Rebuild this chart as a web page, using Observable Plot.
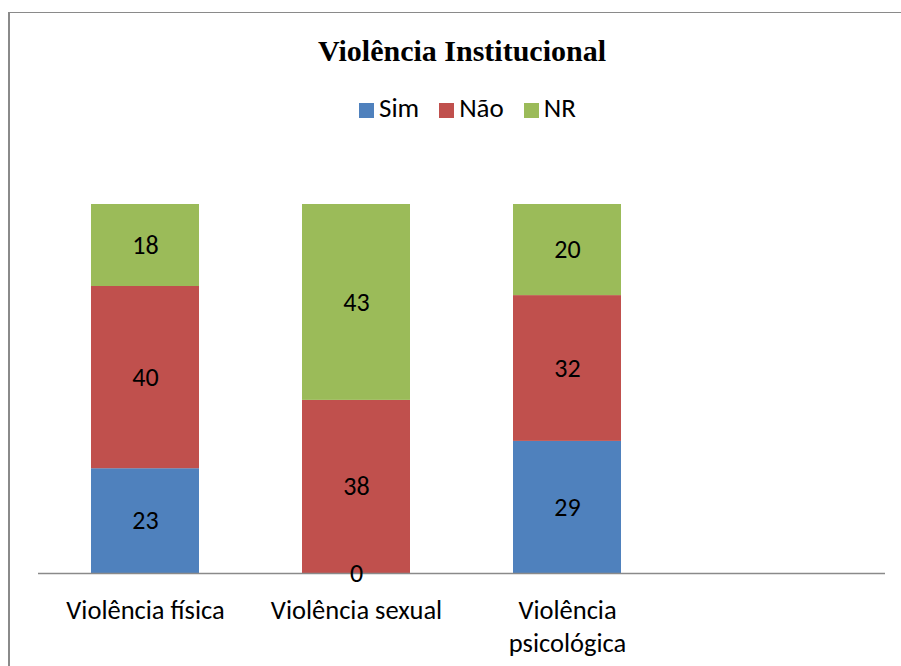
<!DOCTYPE html>
<html><head><meta charset="utf-8">
<script src="https://cdn.jsdelivr.net/npm/d3@7"></script>
<script src="https://cdn.jsdelivr.net/npm/@observablehq/plot@0.6"></script>
<style>
body{margin:0;background:#fff}
#wrap{position:relative;width:901px;height:666px;overflow:hidden;background:#fff}
#frame{position:absolute;left:8px;top:12px;width:900px;height:660px;border-left:2px solid #8a8a8a;border-top:1px solid #8a8a8a}
#title{position:absolute;top:34px;left:462px;transform:translateX(-50%);white-space:nowrap;line-height:1;font:bold 30px "Liberation Serif","Times New Roman",serif;color:#000}
#legend{position:absolute;top:94px;left:359px;white-space:nowrap;display:flex;align-items:flex-start;font-family:Carlito,Calibri,Lato,sans-serif;font-size:27px;line-height:1;color:#000}
#legend .item{display:flex;align-items:flex-start;margin-right:20px}
#legend .sw{width:15px;height:15px;margin-right:5px;margin-top:9px}
#chart{position:absolute;left:0;top:0}
</style></head>
<body><div id="wrap"><div id="frame"></div><div id="chart"></div><div id="title"></div><div id="legend"></div></div>
<script>
const title = "Violência Institucional";
const categories = ["Violência física", "Violência sexual", "Violência psicológica"];
const tickLabels = ["Violência física", "Violência sexual", "Violência\npsicológica"];
const series = ["Sim", "Não", "NR"];
const sim = [23, 0, 29];
const nao = [40, 38, 32];
const nr = [18, 43, 20];
const colors = ["#4F81BD", "#C0504D", "#9BBB59"];

const values = {Sim: sim, "Não": nao, NR: nr};
const data = [];
categories.forEach((c, i) => series.forEach(s => data.push({cat: c, serie: s, value: values[s][i]})));

document.getElementById("title").textContent = title;
const leg = document.getElementById("legend");
series.forEach((s, i) => {
  const it = document.createElement("div"); it.className = "item";
  const sw = document.createElement("div"); sw.className = "sw"; sw.style.background = colors[i];
  const t = document.createElement("span"); t.textContent = s;
  it.appendChild(sw); it.appendChild(t); leg.appendChild(it);
});

const font = "Carlito, Calibri, Lato, sans-serif";
const domainX = [...categories, " "];
const plot = Plot.plot({
  width: 901, height: 666,
  marginTop: 204, marginBottom: 93, marginLeft: 38, marginRight: 16,
  style: {fontFamily: font, background: "transparent", color: "#000"},
  x: {domain: domainX, paddingInner: 0.49, paddingOuter: 0.245, axis: null},
  y: {domain: [0, 81], axis: null},
  color: {domain: series, range: colors},
  marks: [
    Plot.barY(data, {x: "cat", y: "value", fill: "serie", z: "serie", order: series}),
    Plot.ruleY([0], {stroke: "#8a8a8a", strokeWidth: 1.5}),
    Plot.text(data, Plot.stackY({x: "cat", y: "value", z: "serie", order: series, text: d => String(d.value), fontSize: 26, fill: "#000"})),
    Plot.axisX({domain: categories, tickSize: 0, tickPadding: 23, fontSize: 26.5, lineHeight: 1.22, label: null,
      tickFormat: d => tickLabels[categories.indexOf(d)] ?? ""})
  ]
});
document.getElementById("chart").appendChild(plot);
</script></body></html>
